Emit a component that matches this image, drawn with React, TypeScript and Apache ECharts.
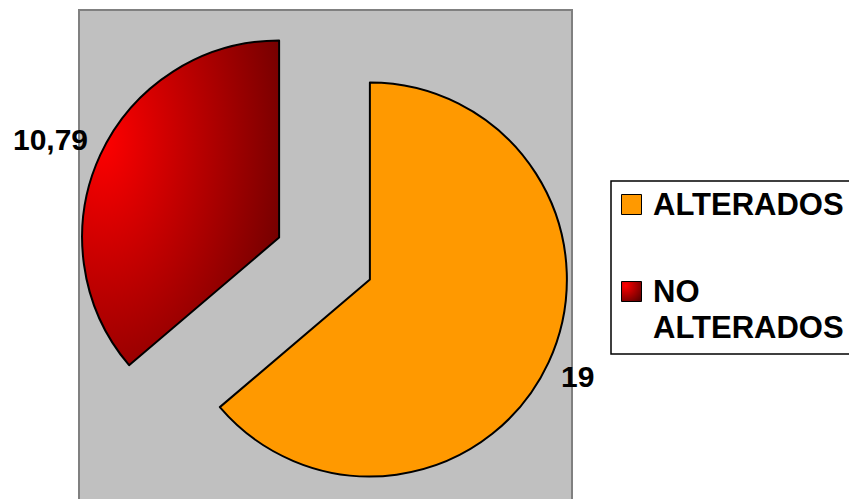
import React, { useEffect, useRef } from 'react';
import * as echarts from 'echarts';

const categories = ['ALTERADOS', 'NO ALTERADOS'];
const values = [19, 10.79];
const legendLines = [['ALTERADOS'], ['NO', 'ALTERADOS']];

const FONT = 'Arial, "Liberation Sans", Helvetica, sans-serif';
const ORANGE = '#FF9900';
const redGradient = () =>
  new echarts.graphic.RadialGradient(0.1, 0.3, 1.1, [
    { offset: 0, color: '#FF0000' },
    { offset: 0.5, color: '#B00000' },
    { offset: 1, color: '#600000' },
  ]);
const colors = [ORANGE, 'red'];

export default function App() {
  const ref = useRef<HTMLDivElement>(null);
  useEffect(() => {
    if (!ref.current) return;
    const chart = echarts.init(ref.current, undefined, { renderer: 'svg' });

    const legendGraphics: any[] = [
      {
        type: 'rect',
        z: 10,
        shape: { x: 611, y: 181, width: 300, height: 173 },
        style: { fill: '#FFFFFF', stroke: '#000000', lineWidth: 1.5 },
      },
    ];
    const itemTops = [194, 281];
    const lineGap = 36;
    categories.forEach((c, i) => {
      legendGraphics.push({
        type: 'rect',
        z: 11,
        shape: { x: 621.5, y: itemTops[i] + 0.5, width: 20, height: 20 },
        style: {
          fill: i === 0 ? ORANGE : new echarts.graphic.RadialGradient(0.2, 0.2, 1, [
            { offset: 0, color: '#FF0000' },
            { offset: 1, color: '#600000' },
          ]),
          stroke: '#000000',
          lineWidth: 1,
        },
      });
      legendLines[i].forEach((line, j) => {
        legendGraphics.push({
          type: 'text',
          z: 11,
          x: 653,
          y: itemTops[i] + 10 + j * lineGap,
          style: {
            text: line,
            font: `bold 31px ${FONT}`,
            fill: '#000000',
            verticalAlign: 'middle',
            align: 'left',
          },
        });
      });
    });

    chart.setOption({
      animation: false,
      backgroundColor: '#FFFFFF',
      graphic: [
        {
          type: 'rect',
          z: -10,
          shape: { x: 79, y: 10, width: 493, height: 500 },
          style: { fill: '#C0C0C0', stroke: '#808080', lineWidth: 2 },
        },
        ...legendGraphics,
      ],
      series: [
        {
          type: 'pie',
          center: [324.5, 258.5],
          radius: 197,
          startAngle: 90,
          clockwise: true,
          selectedMode: 'multiple',
          selectedOffset: 50,
          emphasis: { disabled: true },
          label: {
            show: true,
            position: 'outside',
            fontFamily: FONT,
            fontWeight: 'bold',
            fontSize: 30,
            color: '#000000',
            formatter: (p: any) => String(p.value).replace('.', ','),
          },
          labelLine: { show: false, length: 8, length2: 0 },
          labelLayout: (p: any) => ({ dy: p.dataIndex === 0 ? 11 : -12 }),
          itemStyle: { borderColor: '#000000', borderWidth: 2 },
          data: categories.map((c, i) => ({
            name: c,
            value: values[i],
            selected: true,
            itemStyle: { color: i === 0 ? colors[0] : redGradient() },
          })),
        },
      ],
    });
    return () => chart.dispose();
  }, []);
  return (
    <div
      ref={ref}
      style={{ position: 'absolute', left: 0, top: 0, width: 849, height: 499 }}
    />
  );
}
